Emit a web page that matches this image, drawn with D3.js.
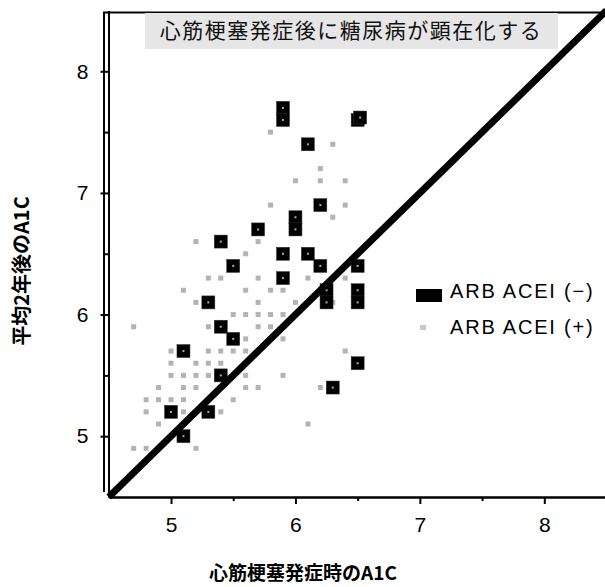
<!DOCTYPE html>
<html>
<head>
<meta charset="utf-8">
<script src="https://cdn.jsdelivr.net/npm/d3@7"></script>
<style>
  body { margin: 0; background: #fff; }
  svg { display: block; }
</style>
</head>
<body>
<div id="chart"></div>
<script>
// ARB ACEI (-) : black squares
var blackPoints = [
  [5.0, 5.2], [5.1, 5.0], [5.3, 5.2], [5.1, 5.7], [5.4, 5.5], [5.4, 5.9],
  [5.5, 5.8], [5.3, 6.1], [5.4, 6.6], [5.5, 6.4], [5.7, 6.7], [5.9, 6.5],
  [5.9, 6.3], [5.9, 7.7], [5.9, 7.6], [6.0, 6.8], [6.0, 6.7], [6.1, 7.4],
  [6.1, 6.5], [6.2, 6.4], [6.2, 6.9], [6.25, 6.2], [6.25, 6.1], [6.5, 7.6],
  [6.52, 7.62], [6.5, 6.4], [6.5, 6.2], [6.5, 6.1], [6.5, 5.6], [6.3, 5.4]
];

// ARB ACEI (+) : small grey squares
var grayPoints = [
  [5.8, 7.5], [6.3, 7.4], [6.2, 7.2], [6.0, 7.1], [6.2, 7.1], [6.4, 7.1],
  [5.8, 6.9], [6.4, 6.9], [6.3, 6.8], [5.2, 6.6], [5.7, 6.6], [5.6, 6.5],
  [5.3, 6.3], [5.4, 6.3], [5.7, 6.3], [6.1, 6.3], [6.4, 6.3],
  [5.1, 6.2], [5.6, 6.2], [5.8, 6.2], [5.9, 6.2],
  [5.2, 6.1], [5.7, 6.1], [6.0, 6.1], [6.3, 6.1],
  [5.5, 6.0], [5.6, 6.0], [5.7, 6.0], [5.8, 6.0], [5.9, 6.0],
  [4.7, 5.9], [5.3, 5.9], [5.7, 5.9], [5.8, 5.9], [5.6, 5.8], [5.9, 5.8],
  [5.0, 5.7], [5.3, 5.7], [5.4, 5.7], [5.5, 5.7], [5.6, 5.7], [6.4, 5.7],
  [5.0, 5.6], [5.2, 5.6], [5.3, 5.6], [5.4, 5.6],
  [5.0, 5.5], [5.1, 5.5], [5.2, 5.5], [5.3, 5.5], [5.6, 5.5], [5.9, 5.5],
  [4.9, 5.4], [5.1, 5.4], [5.2, 5.4], [5.6, 5.4], [5.7, 5.4], [6.2, 5.4],
  [4.8, 5.3], [4.9, 5.3], [5.0, 5.3], [5.1, 5.3], [5.5, 5.3],
  [4.8, 5.2], [5.1, 5.2], [5.4, 5.2], [4.9, 5.1], [6.1, 5.1],
  [4.7, 4.9], [4.8, 4.9], [5.2, 4.9]
];

var majorTicks = [5, 6, 7, 8];
var minorTicks = [5.5, 6.5, 7.5];
var domainLimits = [4.5, 8.5];

var titleText = "心筋梗塞発症後に糖尿病が顕在化する";
var xTitle = "心筋梗塞発症時のA1C";
var yTitle = "平均2年後のA1C";
var legendLabels = ["ARB ACEI (−)", "ARB ACEI (+)"];

var width = 605, height = 587;

var svg = d3.select("#chart")
    .append("svg")
    .attr("width", width)
    .attr("height", height);

var x = d3.scaleLinear().domain(domainLimits).range([108.8, 606.5]);
var y = d3.scaleLinear().domain(domainLimits).range([497, 10.5]);

var numFont = "'Liberation Sans', Arial, sans-serif";
var jpFont = "'Noto Sans CJK JP', sans-serif";

// grey points
svg.append("g")
    .selectAll("rect")
    .data(grayPoints)
    .enter()
    .append("rect")
    .attr("x", d => x(d[0]) - 2.5)
    .attr("y", d => y(d[1]) - 2.5)
    .attr("width", 5)
    .attr("height", 5)
    .attr("fill", "#b3b3b3");

// black points with a tiny grey centre
var blk = svg.append("g")
    .selectAll("g")
    .data(blackPoints)
    .enter()
    .append("g");

blk.append("rect")
    .attr("x", d => x(d[0]) - 6.5)
    .attr("y", d => y(d[1]) - 6.5)
    .attr("width", 13)
    .attr("height", 13)
    .attr("fill", "#000")
    .attr("stroke", "#333")
    .attr("stroke-width", 0.5);

blk.append("rect")
    .attr("x", d => x(d[0]) - 1)
    .attr("y", d => y(d[1]) - 1)
    .attr("width", 2)
    .attr("height", 2)
    .attr("fill", "#aaa");

// identity line
svg.append("line")
    .attr("x1", x(domainLimits[0]))
    .attr("y1", y(domainLimits[0]))
    .attr("x2", x(domainLimits[1]))
    .attr("y2", y(domainLimits[1]))
    .attr("stroke", "#000")
    .attr("stroke-width", 7);

// frame: top line and outer left line
svg.append("line")
    .attr("x1", 103).attr("x2", 606)
    .attr("y1", 12.5).attr("y2", 12.5)
    .attr("stroke", "#000").attr("stroke-width", 2);
svg.append("line")
    .attr("x1", 104).attr("x2", 104)
    .attr("y1", 12).attr("y2", 492)
    .attr("stroke", "#000").attr("stroke-width", 2);

var fmt = d3.format("d");

// x axis
svg.append("g")
    .attr("transform", "translate(0,497)")
    .call(d3.axisBottom(x).tickValues(majorTicks).tickFormat(fmt)
        .tickSize(7).tickSizeOuter(0).tickPadding(13));
svg.append("g")
    .attr("transform", "translate(0,497)")
    .call(d3.axisBottom(x).tickValues(minorTicks).tickSize(4).tickSizeOuter(0).tickFormat(""));

// y axis
svg.append("g")
    .attr("transform", "translate(108.5,0)")
    .call(d3.axisLeft(y).tickValues(majorTicks).tickFormat(fmt)
        .tickSize(8).tickSizeOuter(0).tickPadding(12));
svg.append("g")
    .attr("transform", "translate(108.5,0)")
    .call(d3.axisLeft(y).tickValues(minorTicks).tickSize(4).tickSizeOuter(0).tickFormat(""));

svg.selectAll(".domain").attr("stroke-width", 2);
svg.selectAll(".tick line").attr("stroke-width", 2);
svg.selectAll(".tick text")
    .attr("font-family", numFont)
    .attr("font-size", "21px")
    .attr("fill", "#000");

// title box
svg.append("rect")
    .attr("x", 145)
    .attr("y", 13)
    .attr("width", 413)
    .attr("height", 36)
    .attr("fill", "#e6e6e6");
svg.append("text")
    .attr("x", 351)
    .attr("y", 38)
    .attr("text-anchor", "middle")
    .attr("font-family", jpFont)
    .attr("font-size", "21px")
    .attr("letter-spacing", "1.5px")
    .attr("fill", "#111")
    .text(titleText);

// axis titles
svg.append("text")
    .attr("x", 303)
    .attr("y", 580)
    .attr("text-anchor", "middle")
    .attr("font-family", jpFont)
    .attr("font-weight", "bold")
    .attr("font-size", "19px")
    .text(xTitle);
svg.append("text")
    .attr("transform", "translate(29,271) rotate(-90)")
    .attr("text-anchor", "middle")
    .attr("font-family", jpFont)
    .attr("font-weight", "bold")
    .attr("font-size", "20px")
    .text(yTitle);

// legend
var legend = svg.append("g");
legend.append("rect")
    .attr("x", 416).attr("y", 289)
    .attr("width", 26).attr("height", 13)
    .attr("fill", "#000");
legend.append("rect")
    .attr("x", 420).attr("y", 325)
    .attr("width", 6).attr("height", 5)
    .attr("fill", "#c8c8c8");
legend.selectAll("text")
    .data(legendLabels)
    .enter()
    .append("text")
    .attr("x", 450)
    .attr("y", (d, i) => 298 + i * 36)
    .attr("font-family", numFont)
    .attr("font-size", "20px")
    .attr("letter-spacing", "1.8px")
    .attr("fill", "#000")
    .text(d => d);
</script>
</body>
</html>
